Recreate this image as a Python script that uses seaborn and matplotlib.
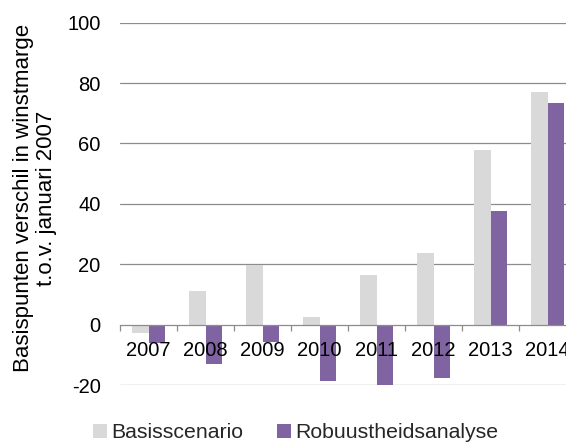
import numpy as np
import pandas as pd
import matplotlib
matplotlib.use("Agg")
import matplotlib.pyplot as plt
import seaborn as sns
from matplotlib.patches import Patch

years = ['2007', '2008', '2009', '2010', '2011', '2012', '2013', '2014']
basis = [-2.9, 11.0, 19.9, 2.5, 16.4, 23.6, 58.0, 77.1]
robuust = [-6.0, -12.9, -5.6, -18.6, -20.6, -17.6, 37.7, 73.5]
series_names = ['Basisscenario', 'Robuustheidsanalyse']
colors = ['#D9D9D9', '#8064A2']
yticks = [-20, 0, 20, 40, 60, 80, 100]
ylabel = 'Basispunten verschil in winstmarge\nt.o.v. januari 2007'

sns.set_theme(style='white')
plt.rcParams['font.family'] = ['Liberation Sans', 'DejaVu Sans']

fig = plt.figure(figsize=(5.66, 4.44), dpi=100)
ax = fig.add_axes([120 / 566, 59 / 444, 456 / 566, 362.3 / 444])

df = pd.DataFrame({
    'year': years * 2,
    'value': basis + robuust,
    'series': [series_names[0]] * len(years) + [series_names[1]] * len(years),
})
sns.barplot(data=df, x='year', y='value', hue='series', hue_order=series_names,
            palette=colors, width=0.58, gap=0, saturation=1, ax=ax,
            legend=False, linewidth=0, errorbar=None)

ax.set_xlim(-0.5, len(years) - 0.5)
ax.set_ylim(min(yticks), max(yticks))
ax.set_yticks(yticks)
ax.set_yticklabels([str(t) for t in yticks])
ax.grid(False)
ax.set_axisbelow(False)
gridc = '#8C8C8C'
for t in yticks:
    if t != 0:
        ax.axhline(t, color=gridc, linewidth=0.9, zorder=0)

for s in ['left', 'top', 'right']:
    ax.spines[s].set_visible(False)
ax.spines['bottom'].set_position(('data', 0))
ax.spines['bottom'].set_color(gridc)
ax.spines['bottom'].set_linewidth(0.9)

ax.tick_params(axis='x', which='major', length=0, pad=12, labelsize=14.5,
               labelcolor='black')
ax.set_xticks(np.arange(-0.5, len(years), 1), minor=True)
ax.tick_params(axis='x', which='minor', length=4, width=0.9, color=gridc,
               direction='out', bottom=True)
ax.tick_params(axis='y', length=0, pad=14, labelsize=14.5, labelcolor='black')
ax.set_xlabel('')
ax.set_ylabel('')

fig.text(35 / 566, 246 / 444, ylabel, rotation=90, ha='center', va='center',
         fontsize=16, multialignment='center', color='black', linespacing=1.1)

handles = [Patch(facecolor=c, edgecolor='none', label=n) for c, n in zip(colors, series_names)]
fig.legend(handles=handles, loc='center', bbox_to_anchor=(0.522, 0.025), ncol=2,
           frameon=False, fontsize=15.3, handlelength=0.65, handleheight=0.65,
           handletextpad=0.2, columnspacing=1.6, borderpad=0)

fig.savefig('out.png', dpi=100)
